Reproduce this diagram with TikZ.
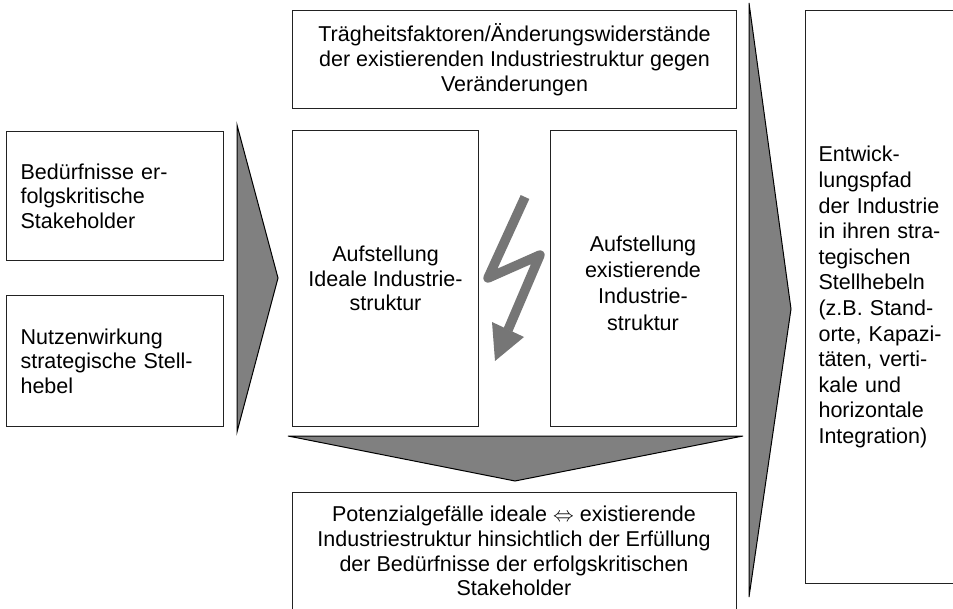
\documentclass[tikz,border=0pt]{standalone}
\usepackage{fontspec}
\setmainfont{Liberation Sans}
\definecolor{trifill}{HTML}{808080}
\definecolor{boltgray}{HTML}{767676}
\definecolor{edge}{HTML}{222222}
\begin{document}
\begin{tikzpicture}[x=1pt,y=-1pt,
  box/.style={draw=edge, line width=1.1pt, fill=white, inner sep=0pt,
              font=\fontsize{21.5}{24.7}\selectfont},
  lbox/.style={box, align=left, text width=#1},
  cbox/.style={box, align=center},
  tri/.style={draw=black, fill=trifill, line width=1pt, line join=miter},
  bolt/.style={draw=boltgray, line width=9.5pt, line join=round},
  txt/.style={font=\fontsize{21.5}{24.7}\selectfont, align=center, inner sep=0pt}]
\useasboundingbox (0,0) rectangle (953,609);
\clip (0,0) rectangle (953,609);
% left boxes
\node[lbox=189pt, minimum width=217pt, minimum height=129pt, anchor=north west]
  (b1) at (6,131) {Bedürfnisse er-\\folgskritische\\Stakeholder};
\node[lbox=189pt, minimum width=217pt, minimum height=131pt, anchor=north west]
  (b2) at (6,295) {Nutzenwirkung\\strategische Stell-\\hebel};
% left arrow
\draw[tri] (237,125) -- (278,278) -- (237,432) -- cycle;
% top box
\node[cbox, minimum width=444pt, minimum height=98pt, anchor=north west]
  (top) at (292,10) {Trägheitsfaktoren/Änderungswiderstände\\der existierenden Industriestruktur gegen\\Veränderungen};
% middle boxes
\node[cbox, minimum width=186pt, minimum height=296pt, anchor=north west]
  (ideal) at (292,130) {Aufstellung\\Ideale Industrie-\\struktur};
\node[box, minimum width=186pt, minimum height=296pt, anchor=north west]
  (exist) at (550,130) {};
\node[txt, font=\fontsize{21.5}{26.3}\selectfont] (existtxt) at (643,283)
  {Aufstellung\\existierende\\Industrie-\\struktur};
% lightning bolt
\coordinate (l1) at (525,197);
\coordinate (l2) at (488,278);
\coordinate (l3) at (540,255);
\coordinate (l4) at (508,330);
\draw[bolt] (l1) -- (l2) -- (l3) -- (l4);
\fill[boltgray] (492,322) -- (524,337) -- (495,361) -- cycle;
% bottom arrow
\draw[tri] (288,436) -- (743,436) -- (515,481) -- cycle;
% bottom box (open at the bottom edge of the picture)
\node[box, minimum width=444pt, minimum height=140pt, anchor=north west]
  (bot) at (292,492) {};
\node[txt] (bottxt) at (514,551) {Potenzialgefälle ideale $\Leftrightarrow$ existierende\\Industriestruktur hinsichtlich der Erfüllung\\der Bedürfnisse der erfolgskritischen\\Stakeholder};
% right arrow
\draw[tri] (749,3) -- (791,309) -- (749,597) -- cycle;
% right box
\node[lbox=154pt, minimum width=180pt, minimum height=573pt, anchor=north west,
      font=\fontsize{21.5}{25.6}\selectfont]
  (right) at (805,10) {Entwick-\\lungspfad\\der Industrie\\in ihren stra-\\tegischen\\Stellhebeln\\(z.B. Stand-\\orte, Kapazi-\\täten, verti-\\kale und\\horizontale\\Integration)};
\end{tikzpicture}
\end{document}
